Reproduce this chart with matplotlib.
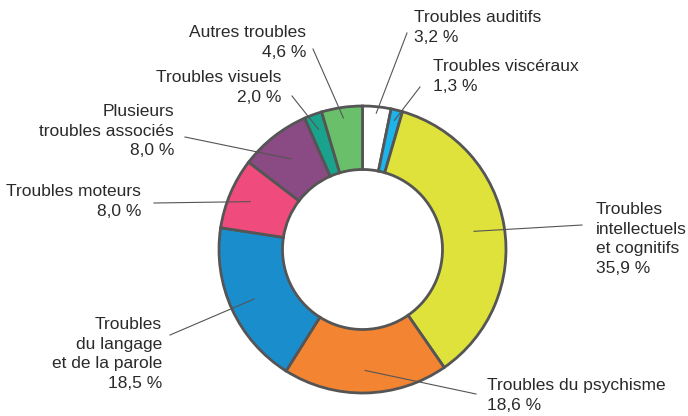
import matplotlib.pyplot as plt
import numpy as np

# data
labels = ["Troubles auditifs\n3,2 %", "Troubles viscéraux\n1,3 %",
          "Troubles\nintellectuels\net cognitifs\n35,9 %", "Troubles du psychisme\n18,6 %",
          "Troubles\ndu langage\net de la parole\n18,5 %", "Troubles moteurs\n8,0 %",
          "Plusieurs\ntroubles associés\n8,0 %", "Troubles visuels\n2,0 %",
          "Autres troubles\n4,6 %"]
values = [3.2, 1.3, 35.9, 18.6, 18.5, 8.0, 8.0, 2.0, 4.6]
colors = ["#ffffff", "#1db4ea", "#dfe23a", "#f28432", "#1a8dcd",
          "#ef4c7d", "#8a4a83", "#1aa38c", "#6abf6a"]

# layout in pixels (y downwards): text anchor x, top y, align, line end, leader radius
text_pos = [(414, 10, 'left'), (433, 59, 'left'), (596, 202, 'left'), (487, 378, 'left'),
            (162, 317, 'right'), (141, 184, 'right'), (174, 104, 'right'),
            (281, 70, 'right'), (306, 25, 'right')]
line_end = [(407, 33), (420, 87), (582, 225), (476, 394), (170, 335),
            (154, 203), (185, 137), (292, 96), (313, 49)]
lead_r = [137, 133, 113, 121, 119, 122, 115, 128, 133]

H = 416
cx, cy, R, r_in = 362.5, 249.5, 143.5, 80

plt.rcParams['font.family'] = ['Liberation Sans', 'DejaVu Sans']
fig = plt.figure(figsize=(6.88, 4.16), dpi=100)
ax = fig.add_axes([0, 0, 1, 1])

ax.pie(values, colors=colors, startangle=90, counterclock=False,
       center=(cx, H - cy), radius=R,
       wedgeprops=dict(width=R - r_in, edgecolor='#555555', linewidth=2))

ax.set_xlim(0, 688)
ax.set_ylim(0, H)
ax.set_aspect('equal')
ax.axis('off')

# leader lines from wedge middle angles
frac = np.cumsum([0] + values) / sum(values)
mids = (frac[:-1] + frac[1:]) / 2
for i, lab in enumerate(labels):
    ang = np.deg2rad(90 - 360 * mids[i])
    x0 = cx + lead_r[i] * np.cos(ang)
    y0 = (H - cy) + lead_r[i] * np.sin(ang)
    ex, ey = line_end[i]
    ax.plot([x0, ex], [y0, H - ey], color='#555555', lw=0.8)
    tx, ty, al = text_pos[i]
    ax.text(tx, H - ty, lab, ha=al, va='top', multialignment=al,
            fontsize=12.5, color='#2a2a2a', linespacing=1.38)

plt.savefig('out.png', dpi=100)
